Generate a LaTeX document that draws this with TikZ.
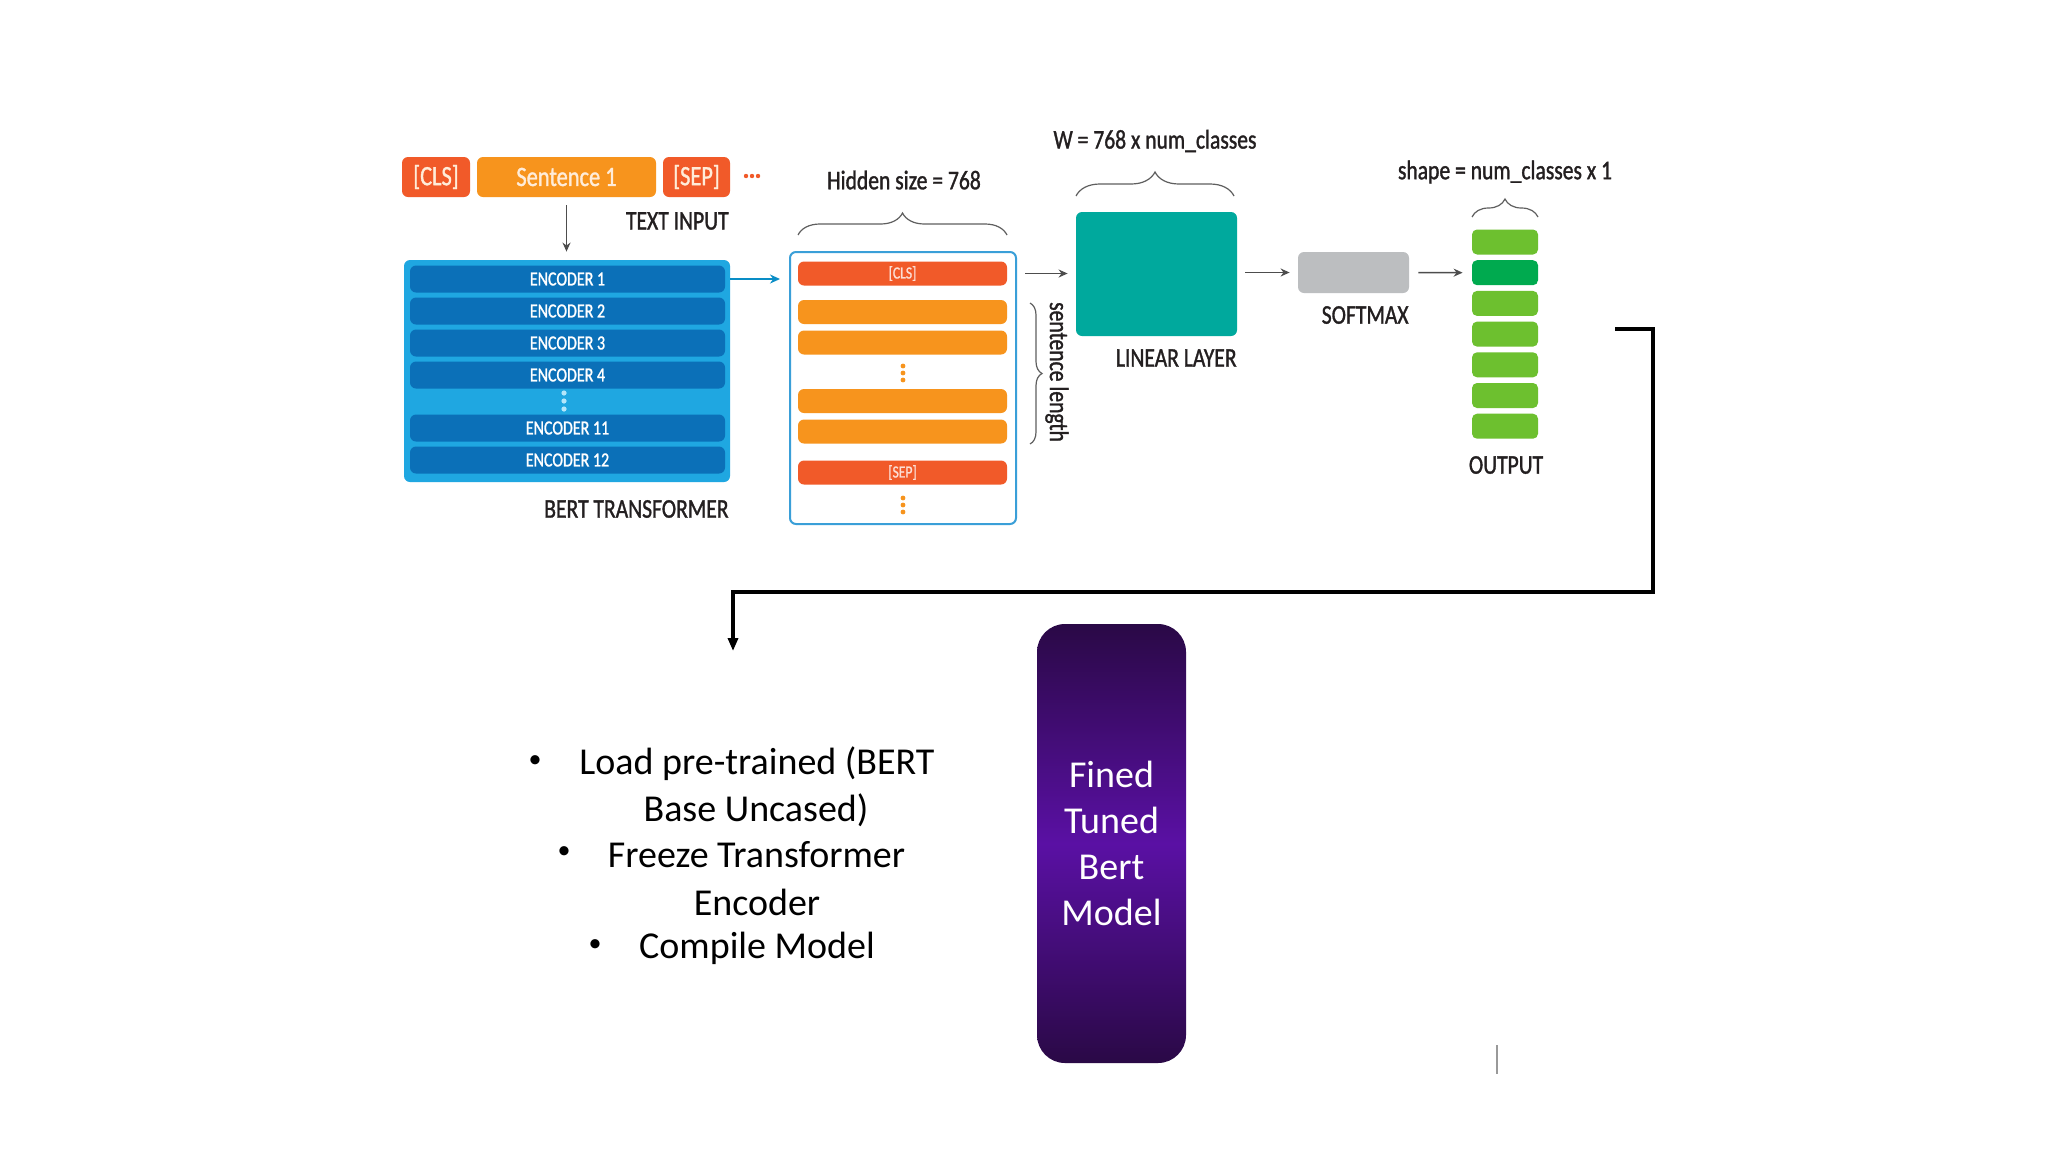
\documentclass[tikz,border=0pt]{standalone}
\usepackage{fontspec}
\setmainfont{Carlito}
\newfontfamily\cond[FakeStretch=0.8,FakeBold=1.2]{Carlito}
\usetikzlibrary{arrows.meta,decorations.pathreplacing,calc}
\definecolor{tred}{HTML}{F15A29}
\definecolor{torange}{HTML}{F7941D}
\definecolor{bertout}{HTML}{1FA7E1}
\definecolor{bertrow}{HTML}{0B70B8}
\definecolor{hidborder}{HTML}{3A9FD8}
\definecolor{teal}{HTML}{00A99D}
\definecolor{smgray}{HTML}{BCBEC0}
\definecolor{glight}{HTML}{6DC02F}
\definecolor{gdark}{HTML}{00AA4F}
\definecolor{txt}{HTML}{231F20}
\definecolor{arr}{HTML}{4D4D4D}
\definecolor{pdark}{HTML}{2A0946}
\definecolor{pmid}{HTML}{5A10A4}
\begin{document}
\begin{tikzpicture}[x=0.5pt,y=-0.5pt,
  box/.style={rectangle, rounded corners=3pt, inner sep=0pt, draw=none},
  tok/.style={box, minimum height=20pt, text=white!85!orange, font=\cond\fontsize{14pt}{16pt}\selectfont},
  enc/.style={box, fill=bertrow, minimum width=157.5pt, minimum height=13.5pt, text=white, font=\cond\fontsize{10pt}{12pt}\selectfont},
  bar/.style={box, minimum width=104.5pt, minimum height=12pt, text=white!80!tred, font=\cond\fontsize{8.5pt}{10pt}\selectfont},
  cell/.style={box, rounded corners=2.5pt, minimum width=33pt, minimum height=12.5pt, fill=glight},
  lbl/.style={inner sep=0pt, text=txt, font=\cond\fontsize{13.5pt}{16pt}\selectfont},
  garrow/.style={draw=arr, line width=0.75pt, -{Stealth[length=4.5pt,width=4pt]}},
  brc/.style={draw=arr!90, line width=0.6pt, decorate},
  bul/.style={inner sep=0pt, text=black, font=\fontsize{19pt}{23pt}\selectfont},
  dot/.style={inner sep=0pt, text=black, font=\fontsize{13pt}{15pt}\selectfont}
]
\useasboundingbox (0,0) rectangle (2048,1152);
\fill[white] (0,0) rectangle (2048,1152);

% ---- text input ----
\node[tok, fill=tred, minimum width=34pt] (cls) at (436,177) {[CLS]};
\node[tok, fill=torange, minimum width=89.5pt] (sent) at (566.5,177) {Sentence 1};
\node[tok, fill=tred, minimum width=33.5pt] (sep) at (696.5,177) {[SEP]};
\foreach \xx in {746,752,758} \fill[tred] (\xx,176) circle (1.1pt);
\node[lbl, anchor=east] (tin) at (729,221) {TEXT INPUT};

% ---- BERT ----
\node[box, fill=bertout, minimum width=163pt, minimum height=111pt] (bert) at (567,371) {};
\node[enc] (e1) at (567.5,279) {ENCODER 1};
\node[enc] (e2) at (567.5,311) {ENCODER 2};
\node[enc] (e3) at (567.5,343) {ENCODER 3};
\node[enc] (e4) at (567.5,375) {ENCODER 4};
\node[enc] (e11) at (567.5,428) {ENCODER 11};
\node[enc] (e12) at (567.5,460) {ENCODER 12};
\foreach \yy in {393,401,409} \fill[white!70!cyan] (564,\yy) circle (1.3pt);
\node[lbl, anchor=east] (btl) at (729,509) {BERT TRANSFORMER};
\draw[garrow, shorten <=4pt, shorten >=4pt] (sent.south) -- (sent.south |- bert.north);

% ---- hidden ----
\node[box, draw=hidborder, line width=1pt, minimum width=113pt, minimum height=136pt] (hid) at (903,388) {};
\node[bar, fill=tred] (hcls) at (902.5,273.5) {[CLS]};
\node[bar, fill=torange] (h1) at (902.5,312) {};
\node[bar, fill=torange] (h2) at (902.5,342.5) {};
\node[bar, fill=torange] (h3) at (902.5,401) {};
\node[bar, fill=torange] (h4) at (902.5,431.5) {};
\node[bar, fill=tred] (hsep) at (902.5,472.5) {[SEP]};
\foreach \yy in {366,373,380,498,505,512} \fill[torange] (903,\yy) circle (1.2pt);
\draw[draw=bertrow!80!cyan, line width=1pt, -{Stealth[length=5pt,width=4.5pt]}, shorten >=4.5pt] (bert.east |- e1) -- (hid.west |- e1);
\coordinate (hb1) at (798,235); \coordinate (hb2) at (1007,235);
\draw[brc, decoration={brace, amplitude=11pt}] (hb1) -- (hb2);
\node[lbl] (hsl) at (904,180) {Hidden size = 768};
\coordinate (sb1) at (1030,303); \coordinate (sb2) at (1030,444);
\draw[brc, decoration={brace, amplitude=6pt}] (sb1) -- (sb2);
\node[lbl, rotate=-90] (sll) at (1057,372) {sentence length};

% ---- linear ----
\node[box, fill=teal, minimum width=80.5pt, minimum height=62pt] (lin) at (1156.5,274) {};
\node[lbl, anchor=east] (linl) at (1237,358) {LINEAR LAYER};
\coordinate (wb1) at (1076,196); \coordinate (wb2) at (1234,196);
\draw[brc, decoration={brace, amplitude=12pt}] (wb1) -- (wb2);
\node[lbl] (wl) at (1155,141) {W = 768 x num\_classes};
\draw[garrow, shorten <=4pt, shorten >=4pt] (hid.east |- hcls) -- (lin.west |- hcls);

% ---- softmax ----
\node[box, fill=smgray, minimum width=55.5pt, minimum height=20.5pt] (sm) at (1353.5,272.5) {};
\node[lbl, anchor=east] (sml) at (1409,315) {SOFTMAX};
\draw[garrow, shorten <=4pt, shorten >=4pt] (lin.east |- sm.west) -- (sm.west);

% ---- output ----
\node[cell] (o1) at (1505,242) {};
\node[cell, fill=gdark] (o2) at (1505,272.7) {};
\node[cell] (o3) at (1505,303.4) {};
\node[cell] (o4) at (1505,334.1) {};
\node[cell] (o5) at (1505,364.8) {};
\node[cell] (o6) at (1505,395.5) {};
\node[cell] (o7) at (1505,426.2) {};
\node[lbl] (ol) at (1506,465) {OUTPUT};
\coordinate (ob1) at (1472,217); \coordinate (ob2) at (1538,217);
\draw[brc, decoration={brace, amplitude=9pt}] (ob1) -- (ob2);
\node[lbl] (shl) at (1505,172) {shape = num\_classes x 1};
\draw[garrow, shorten <=4.5pt, shorten >=4.5pt] (sm.east) -- (o2.west);

% ---- connector ----
\coordinate (k0) at (1615,329);
\coordinate (k1) at (1653,592);
\coordinate (k2) at (733,651);
\draw[line width=1.6pt, black, -{Triangle[length=6.5pt,width=5pt]}] (k0) -| (k1) -| (k2);

% ---- fine tuned ----
\node[rectangle, rounded corners=14pt, minimum width=74.5pt, minimum height=219.5pt,
  top color=pdark, bottom color=pdark, middle color=pmid, inner sep=0pt,
  align=center, text=white, font=\fontsize{19pt}{23pt}\selectfont] (ft) at (1111.5,843.5)
  {Fined\\Tuned\\Bert\\Model};

% ---- bullets ----
\node[bul] (b1) at (757,764) {Load pre-trained (BERT};
\node[bul] (b2) at (756,810) {Base Uncased)};
\node[bul] (b3) at (756.5,855) {Freeze Transformer};
\node[bul] (b4) at (757,902) {Encoder};
\node[bul] (b5) at (757,948) {Compile Model};
\node[dot] (d1) at (535,762) {•};
\node[dot] (d3) at (564,853) {•};
\node[dot] (d5) at (595,946) {•};

\draw[gray!80, line width=0.8pt] (1497,1045) -- (1497,1074);
\end{tikzpicture}
\end{document}
